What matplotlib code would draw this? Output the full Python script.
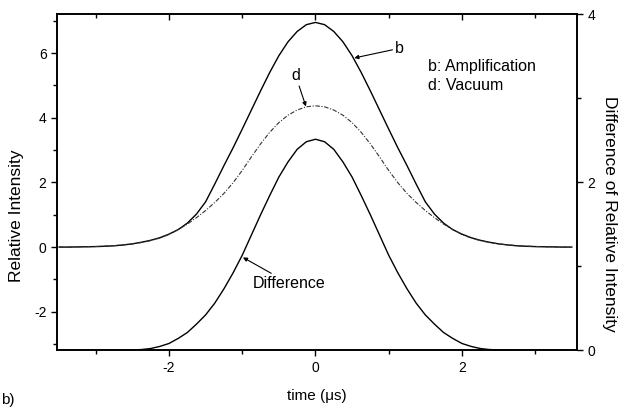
import numpy as np
import matplotlib.pyplot as plt
from matplotlib.ticker import MultipleLocator

plt.rcParams['font.family'] = ['Liberation Sans', 'DejaVu Sans']
plt.rcParams['axes.unicode_minus'] = False

# time grid (us), 0.125 us steps from -3.5 to 3.5
time_us = np.linspace(-3.5, 3.5, 57)

# b: amplification (left axis)
amplification = [0.0, 0.0, 0.005, 0.01, 0.015, 0.025, 0.04, 0.065, 0.10, 0.15,
                 0.21, 0.29, 0.40, 0.54, 0.74, 1.02, 1.40, 1.95, 2.52, 3.07,
                 3.65, 4.24, 4.83, 5.40, 5.92, 6.35, 6.67, 6.88,
                 6.95,
                 6.88, 6.67, 6.35, 5.92, 5.40, 4.83, 4.24, 3.65, 3.07, 2.52,
                 1.95, 1.40, 1.02, 0.74, 0.54, 0.40, 0.29, 0.21, 0.15, 0.10,
                 0.065, 0.04, 0.025, 0.015, 0.01, 0.005, 0.0, 0.0]
# d: vacuum (left axis)
vacuum = [0.0, 0.0, 0.005, 0.01, 0.018, 0.03, 0.045, 0.07, 0.10, 0.14,
          0.20, 0.28, 0.39, 0.54, 0.71, 0.91, 1.13, 1.38, 1.66, 1.99,
          2.37, 2.79, 3.19, 3.55, 3.85, 4.08, 4.24, 4.34,
          4.37,
          4.34, 4.24, 4.08, 3.85, 3.55, 3.19, 2.79, 2.37, 1.99, 1.66,
          1.38, 1.13, 0.91, 0.71, 0.54, 0.39, 0.28, 0.20, 0.14, 0.10,
          0.07, 0.045, 0.03, 0.018, 0.01, 0.005, 0.0, 0.0]
# difference (right axis)
difference = [0.0, 0.0, 0.0, 0.0, 0.0, 0.0, 0.0, 0.0, 0.003, 0.008,
              0.02, 0.045, 0.08, 0.14, 0.21, 0.31, 0.42, 0.56, 0.73, 0.92,
              1.13, 1.37, 1.61, 1.84, 2.06, 2.24, 2.39, 2.48,
              2.51,
              2.48, 2.39, 2.24, 2.06, 1.84, 1.61, 1.37, 1.13, 0.92, 0.73,
              0.56, 0.42, 0.31, 0.21, 0.14, 0.08, 0.045, 0.02, 0.008, 0.003,
              0.0, 0.0, 0.0, 0.0, 0.0, 0.0, 0.0, 0.0]

fig = plt.figure(figsize=(6.19, 4.12), dpi=100)
ax = fig.add_axes([0.092, 0.150, 0.840, 0.816])

ax.plot(time_us, amplification, color='black', lw=1.0)
ax.plot(time_us, vacuum, color='#333333', lw=0.8, linestyle=(0, (4, 1.5, 1, 1.5)))
ax.set_xlim(-3.53, 3.57)
ax.set_ylim(-3.19, 7.21)

ax2 = ax.twinx()
ax2.plot(time_us, difference, color='black', lw=1.0)
ax2.set_ylim(0, 4)

for a in (ax, ax2):
    for s in a.spines.values():
        s.set_linewidth(1.2)

ax.xaxis.set_major_locator(MultipleLocator(2))
ax.xaxis.set_minor_locator(MultipleLocator(1))
ax.yaxis.set_major_locator(MultipleLocator(2))
ax.yaxis.set_minor_locator(MultipleLocator(1))
ax2.yaxis.set_major_locator(MultipleLocator(2))
ax2.yaxis.set_minor_locator(MultipleLocator(1))

ax.tick_params(axis='x', which='both', direction='out', top=True, labeltop=False, labelsize=10)
ax.tick_params(axis='x', which='major', length=4, width=1)
ax.tick_params(axis='x', which='minor', length=3, width=1)
ax.tick_params(axis='y', which='major', direction='out', length=4, width=1, labelsize=10)
ax.tick_params(axis='y', which='minor', direction='out', length=3, width=1)
ax2.tick_params(axis='y', which='major', direction='out', length=4, width=1, labelsize=10)
ax2.tick_params(axis='y', which='minor', direction='out', length=3, width=1)
# top ticks point inside the frame
for t in ax.xaxis.get_major_ticks() + ax.xaxis.get_minor_ticks():
    t.tick2line.set_marker(3)

ax.set_xlabel('time (\u03bcs)', fontsize=11, labelpad=10)
ax.set_ylabel('Relative Intensity', fontsize=12.5, va='center')
ax.yaxis.set_label_coords(-0.077, 0.40)
ax2.set_ylabel('Difference of Relative Intensity', fontsize=12.5, rotation=-90,
               va='center')
ax2.yaxis.set_label_coords(1.063, 0.405)

arrow = dict(arrowstyle='-|>', color='black', lw=0.8, mutation_scale=6, shrinkA=0, shrinkB=0)
ax.annotate('b', xy=(0.53, 5.85), xytext=(1.15, 6.15), fontsize=11.5,
            ha='center', va='center', arrowprops=arrow)
ax.annotate('d', xy=(-0.13, 4.35), xytext=(-0.27, 5.3), fontsize=11.5,
            ha='center', va='center', arrowprops=arrow)
ax.annotate('Difference', xy=(-0.99, -0.32), xytext=(-0.85, -1.13), fontsize=11.5,
            ha='left', va='center', arrowprops=arrow)
ax.text(1.53, 5.6, 'b: Amplification', fontsize=11.5, ha='left', va='center')
ax.text(1.53, 5.0, 'd: Vacuum', fontsize=11.5, ha='left', va='center')

fig.text(0.002, 0.03, 'b)', fontsize=11, ha='left', va='center')

fig.savefig('out.png', dpi=100)
